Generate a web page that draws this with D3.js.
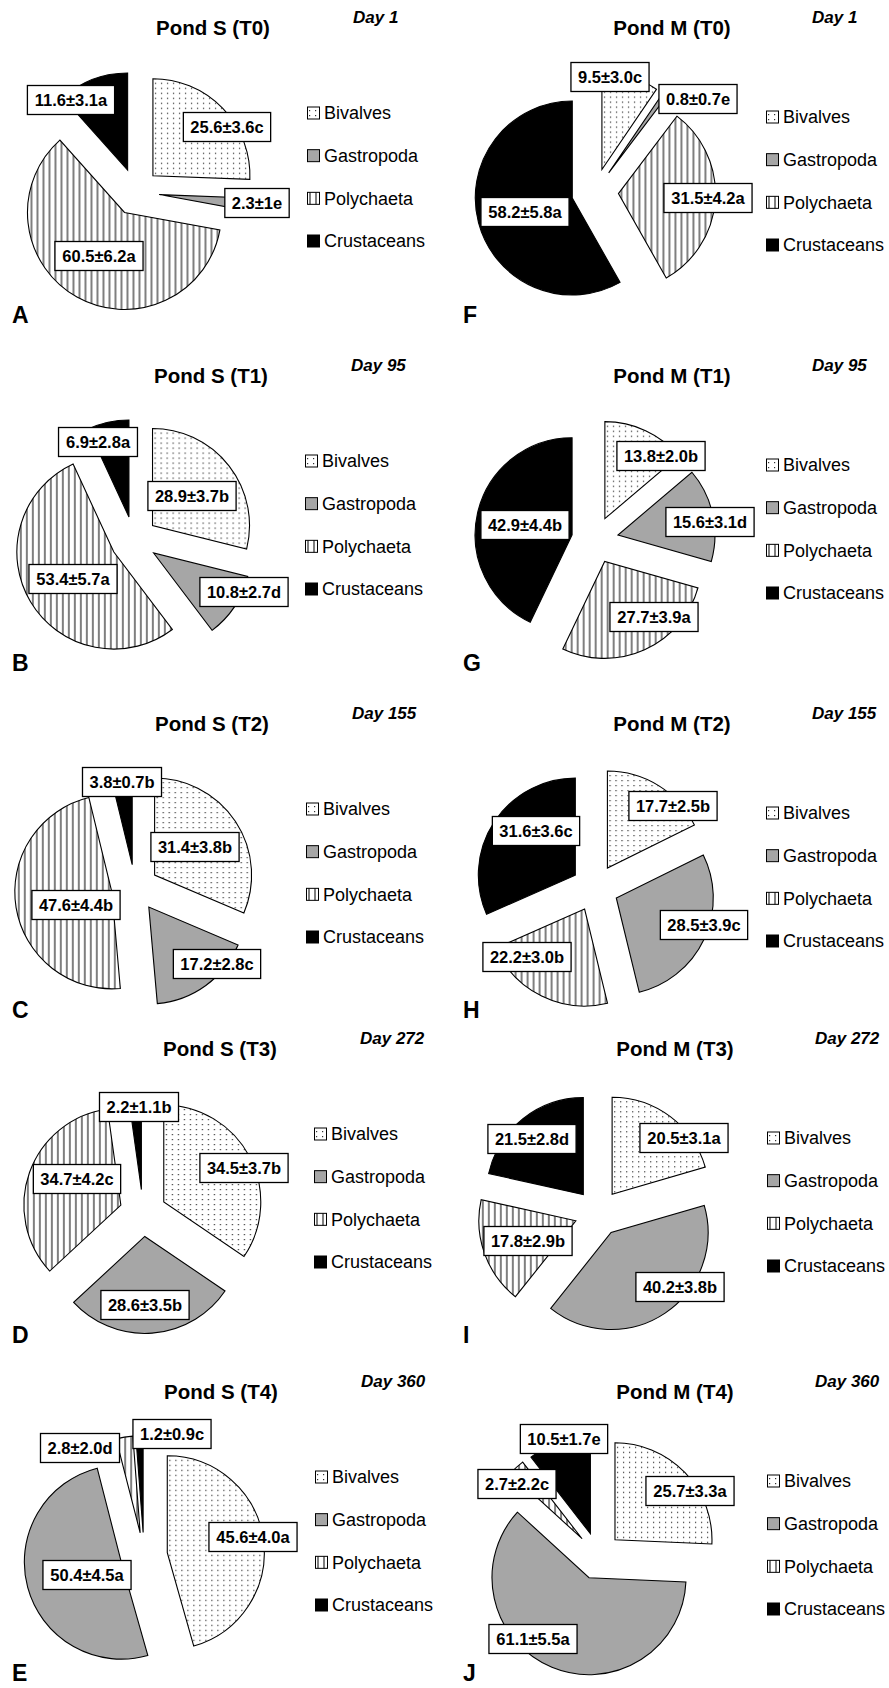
<!DOCTYPE html>
<html>
<head>
<meta charset="utf-8">
<script src="https://cdn.jsdelivr.net/npm/d3@7"></script>
<style>
  body { margin: 0; background: #fff; }
  text { font-family: "Liberation Sans", Arial, sans-serif; fill: #000; }
  .title { font-size: 20.5px; font-weight: bold; }
  .day { font-size: 17px; font-weight: bold; font-style: italic; }
  .panelLetter { font-size: 23px; font-weight: bold; }
  .legendText { font-size: 18px; }
  .sliceLabel { font-size: 16.5px; font-weight: bold; }
</style>
</head>
<body>
<div id="chart"></div>
<script>
// data
var categories = ["Bivalves", "Gastropoda", "Polychaeta", "Crustaceans"];
var times = ["T0", "T1", "T2", "T3", "T4"];
var days = ["Day 1", "Day 95", "Day 155", "Day 272", "Day 360"];
var ponds = ["Pond S", "Pond M"];
var panelLetters = [["A", "B", "C", "D", "E"], ["F", "G", "H", "I", "J"]];

// mean %, one row per sampling time (Bivalves, Gastropoda, Polychaeta, Crustaceans)
var pondSMean = [
  [25.6, 2.3, 60.5, 11.6],
  [28.9, 10.8, 53.4, 6.9],
  [31.4, 17.2, 47.6, 3.8],
  [34.5, 28.6, 34.7, 2.2],
  [45.6, 50.4, 2.8, 1.2]
];
var pondSSd = [
  ["3.6", "1", "6.2", "3.1"],
  ["3.7", "2.7", "5.7", "2.8"],
  ["3.8", "2.8", "4.4", "0.7"],
  ["3.7", "3.5", "4.2", "1.1"],
  ["4.0", "4.5", "2.0", "0.9"]
];
var pondSLetter = [
  ["c", "e", "a", "a"],
  ["b", "d", "a", "a"],
  ["b", "c", "b", "b"],
  ["b", "b", "c", "b"],
  ["a", "a", "d", "c"]
];

var pondMMean = [
  [9.5, 0.8, 31.5, 58.2],
  [13.8, 15.6, 27.7, 42.9],
  [17.7, 28.5, 22.2, 31.6],
  [20.5, 40.2, 17.8, 21.5],
  [25.7, 61.1, 2.7, 10.5]
];
var pondMSd = [
  ["3.0", "0.7", "4.2", "5.8"],
  ["2.0", "3.1", "3.9", "4.4"],
  ["2.5", "3.9", "3.0", "3.6"],
  ["3.1", "3.8", "2.9", "2.8"],
  ["3.3", "5.5", "2.2", "1.7"]
];
var pondMLetter = [
  ["c", "e", "a", "a"],
  ["b", "d", "a", "b"],
  ["b", "c", "b", "c"],
  ["a", "b", "b", "d"],
  ["a", "a", "c", "e"]
];

// layout
var svgWidth = 889;
var svgHeight = 1688;
var radius = 97;
var explode = 23.5;
var pieCx = [[136, 134, 135, 143, 144], [595, 595, 595, 598, 598]];
var pieCy = [192, 540, 888, 1213, 1556];
var letterDy = [123, 123, 122, 122, 117];

// label box centres relative to the pie centre (Excel best-fit placement)
var labelOffsets = [
  [ [[91, -65], [121, 11], [-37, 64], [-65, -92]],
    [[58, -44], [110, 52], [-61, 39], [-36, -98]],
    [[60, -41], [82, 76], [-59, 17], [-13, -106]],
    [[101, -45], [2, 92], [-66, -34], [-4, -106]],
    [[109, -19], [-57, 19], [-64, -108], [28, -122]] ],
  [ [[15, -115], [103, -93], [113, 6], [-70, 20]],
    [[66, -84], [115, -18], [59, 77], [-70, -15]],
    [[78, -82], [109, 37], [-68, 69], [-59, -57]],
    [[86, -75], [82, 74], [-70, 28], [-66, -74]],
    [[92, -65], [-65, 83], [-81, -72], [-34, -117]] ]
];

var svg = d3.select("#chart")
  .append("svg")
  .attr("width", svgWidth)
  .attr("height", svgHeight);

svg.append("rect")
  .attr("width", svgWidth)
  .attr("height", svgHeight)
  .attr("fill", "#fff");

// fill patterns
var defs = svg.append("defs");

var dots = defs.append("pattern")
  .attr("id", "dots")
  .attr("patternUnits", "userSpaceOnUse")
  .attr("width", 6)
  .attr("height", 5);
dots.append("rect").attr("width", 6).attr("height", 5).attr("fill", "#fff");
dots.append("rect").attr("x", 2).attr("y", 2).attr("width", 1.2).attr("height", 1.2).attr("fill", "#333");

var vlines = defs.append("pattern")
  .attr("id", "vlines")
  .attr("patternUnits", "userSpaceOnUse")
  .attr("width", 6)
  .attr("height", 6);
vlines.append("rect").attr("width", 6).attr("height", 6).attr("fill", "#fff");
vlines.append("rect").attr("x", 2.5).attr("width", 1).attr("height", 6).attr("fill", "#000");

var color = d3.scaleOrdinal()
  .domain(categories)
  .range(["url(#dots)", "#a6a6a6", "url(#vlines)", "#000"]);

var pie = d3.pie().sort(null).value(d => d);
var arc = d3.arc().innerRadius(0).outerRadius(radius);

function drawPanel(col, row) {
  var means = col === 0 ? pondSMean[row] : pondMMean[row];
  var sds = col === 0 ? pondSSd[row] : pondMSd[row];
  var letters = col === 0 ? pondSLetter[row] : pondMLetter[row];
  var cx = pieCx[col][row];
  var cy = pieCy[row];

  var g = svg.append("g")
    .attr("transform", `translate(${cx}, ${cy})`);

  var arcs = pie(means);

  // exploded slices
  g.selectAll("path.slice")
    .data(arcs)
    .enter()
    .append("path")
    .attr("class", "slice")
    .attr("transform", function(d) {
      var mid = (d.startAngle + d.endAngle) / 2;
      return `translate(${explode * Math.sin(mid)}, ${-explode * Math.cos(mid)})`;
    })
    .attr("d", arc)
    .attr("fill", (d, i) => color(categories[i]))
    .attr("stroke", "#000")
    .attr("stroke-width", 1.1)
    .attr("stroke-linejoin", "miter");

  // value labels in boxes
  var labels = g.selectAll("g.label")
    .data(arcs)
    .enter()
    .append("g")
    .attr("class", "label")
    .attr("transform", (d, i) => `translate(${labelOffsets[col][row][i][0]}, ${labelOffsets[col][row][i][1]})`);

  labels.append("rect");
  labels.append("text")
    .attr("class", "sliceLabel")
    .attr("text-anchor", "middle")
    .attr("dy", "0.36em")
    .text((d, i) => `${means[i]}±${sds[i]}${letters[i]}`);

  labels.each(function() {
    var lg = d3.select(this);
    var bb = lg.select("text").node().getBBox();
    lg.select("rect")
      .attr("x", -bb.width / 2 - 7)
      .attr("y", -14.5)
      .attr("width", bb.width + 14)
      .attr("height", 29)
      .attr("fill", "#fff")
      .attr("stroke", "#000")
      .attr("stroke-width", 1.3);
  });

  // title, day, panel letter
  g.append("text")
    .attr("class", "title")
    .attr("x", 77)
    .attr("y", -164)
    .attr("dy", "0.36em")
    .attr("text-anchor", "middle")
    .text(`${ponds[col]} (${times[row]})`);

  g.append("text")
    .attr("class", "day")
    .attr("x", 217)
    .attr("y", -175)
    .attr("dy", "0.36em")
    .text(days[row]);

  svg.append("text")
    .attr("class", "panelLetter")
    .attr("x", col === 0 ? 12 : 463)
    .attr("y", cy + letterDy[row])
    .attr("dy", "0.36em")
    .text(panelLetters[col][row]);

  // legend
  var legendY = d3.scalePoint()
    .domain(categories)
    .range([col === 0 ? -79 : -75, col === 0 ? 49 : 53]);

  var legendX = Math.min(171, 885 - cx - 118);

  var legend = g.selectAll("g.legend")
    .data(categories)
    .enter()
    .append("g")
    .attr("class", "legend")
    .attr("transform", d => `translate(${legendX}, ${legendY(d)})`);

  legend.append("rect")
    .attr("x", 0.5)
    .attr("y", -6)
    .attr("width", 12)
    .attr("height", 12)
    .attr("fill", d => color(d))
    .attr("stroke", "#000")
    .attr("stroke-width", 1);

  legend.append("text")
    .attr("class", "legendText")
    .attr("x", 17)
    .attr("dy", "0.36em")
    .text(d => d);
}

for (var c = 0; c < 2; c++) {
  for (var r = 0; r < 5; r++) {
    drawPanel(c, r);
  }
}
</script>
</body>
</html>
